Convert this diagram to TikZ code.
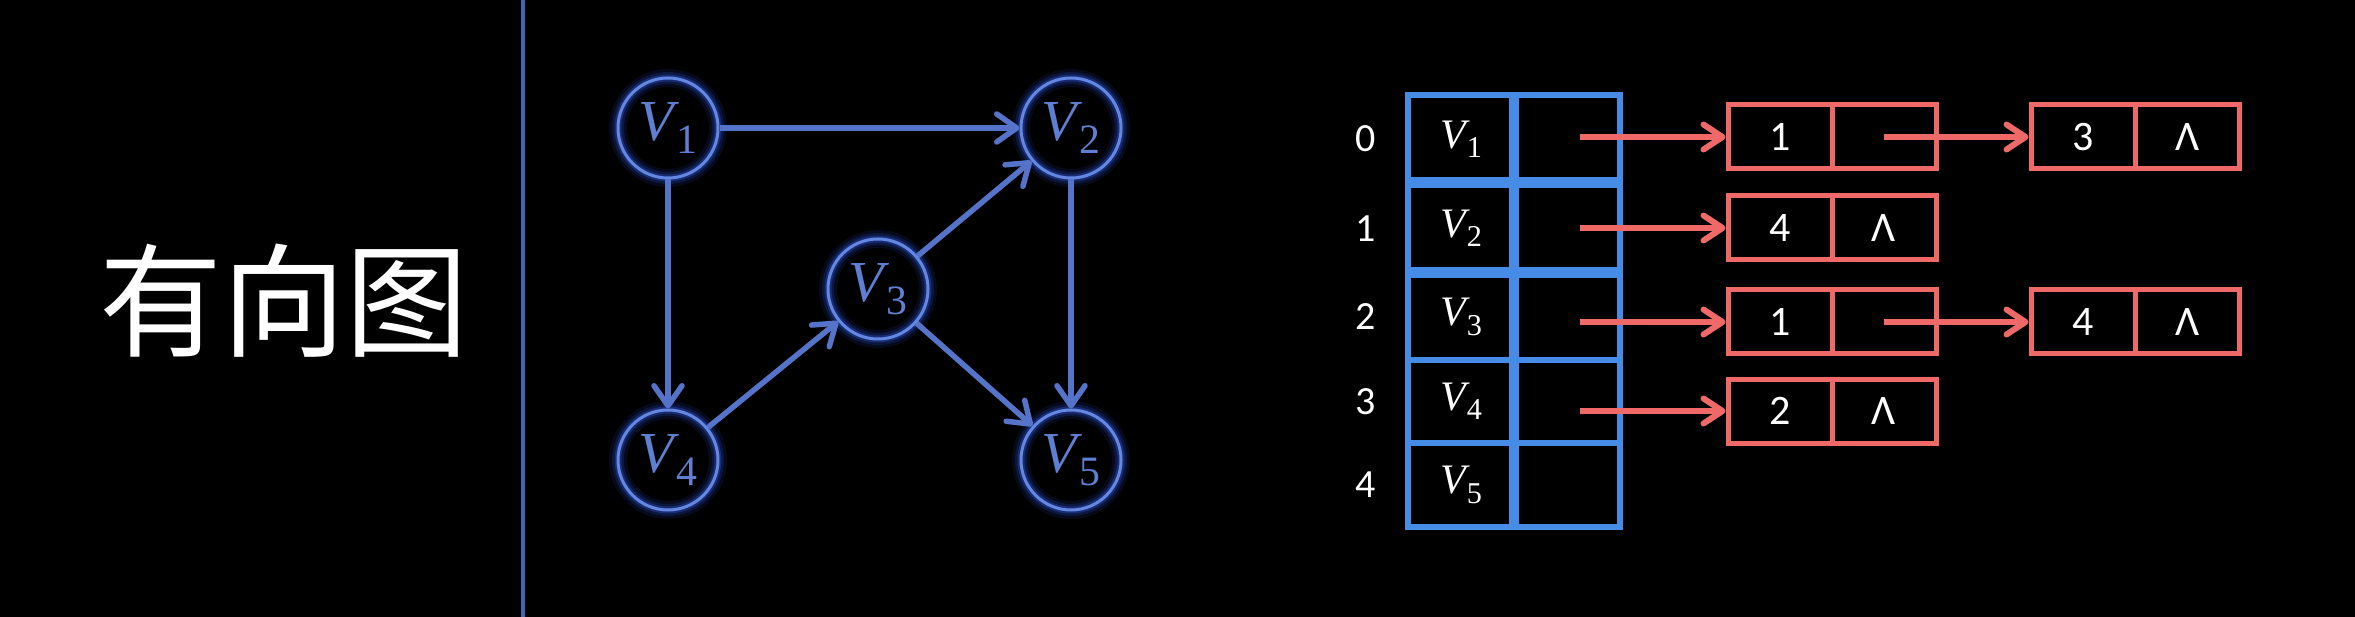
\documentclass[tikz,border=0pt]{standalone}
\usepackage{graphicx}
\usepackage{fontspec}
\newfontfamily\cjkfont{Noto Sans CJK SC}
\newfontfamily\calfont{Carlito}
\newfontfamily\serfont{Liberation Serif}
\usetikzlibrary{arrows.meta}
\newcommand\Vx[1]{{\serfont\itshape V}\kern0.03em\raisebox{-0.22em}{\scalebox{0.72}{\serfont #1}}}
\definecolor{gblue}{RGB}{85,115,200}
\definecolor{ringlight}{RGB}{100,135,225}
\definecolor{glowblue}{RGB}{35,65,170}
\definecolor{vtext}{RGB}{95,128,210}
\definecolor{sepblue}{RGB}{70,100,180}
\definecolor{tblue}{RGB}{70,140,230}
\definecolor{rred}{RGB}{240,105,105}
\tikzset{
  vtx/.style={circle, minimum size=100pt, inner sep=0pt, line width=3pt, draw=ringlight,
    preaction={draw=glowblue, line width=18pt, opacity=0.15},
    preaction={draw=glowblue, line width=12pt, opacity=0.25},
    preaction={draw=glowblue, line width=7pt, opacity=0.5},
    text=vtext, font=\fontsize{58}{62}\selectfont},
  garrow/.style={draw=gblue, line width=5.5pt, -{Straight Barb[length=20pt,width=28pt,line cap=round,line join=round]}},
  rarrow/.style={draw=rred, line width=6pt, -{Straight Barb[length=19pt,width=25pt,line cap=round,line join=round]}},
  rcell/.style={draw=rred, line width=5pt, minimum width=104pt, minimum height=64pt, inner sep=0pt, text=white, font=\calfont\fontsize{42}{44}\selectfont},
  idx/.style={text=white, font=\calfont\fontsize{40}{42}\selectfont},
  tv/.style={text=white, font=\fontsize{42}{44}\selectfont},
  tline/.style={draw=tblue},
}
\begin{document}
\begin{tikzpicture}[x=1pt,y=-1pt]
\fill[black] (0,0) rectangle (2355,617);
\useasboundingbox (0,0) rectangle (2355,617);

% title
\node[text=white, font=\cjkfont\fontsize{123}{130}\selectfont] (title) at (284,301) {有向图};

% separator
\coordinate (septop) at (523,0);
\coordinate (sepbot) at (523,617);
\draw[sepblue, line width=4pt] (septop) -- (sepbot);

% graph
\node[vtx] (v1) at (668,128) {\Vx{1}};
\node[vtx] (v2) at (1071,128) {\Vx{2}};
\node[vtx] (v3) at (878,289) {\Vx{3}};
\node[vtx] (v4) at (668,460) {\Vx{4}};
\node[vtx] (v5) at (1071,460) {\Vx{5}};
\draw[garrow] (v1) -- (v2);
\draw[garrow] (v1) -- (v4);
\draw[garrow] (v2) -- (v5);
\draw[garrow] (v4) -- (v3);
\draw[garrow] (v3) -- (v2);
\draw[garrow] (v3) -- (v5);

% table
\draw[tline, line width=10pt] (1514,95) -- (1514,527);
\draw[tline, line width=11pt] (1408,183) -- (1620,183);
\draw[tline, line width=11pt] (1408,273) -- (1620,273);
\draw[tline, line width=6pt] (1408,360) -- (1620,360);
\draw[tline, line width=6pt] (1408,443) -- (1620,443);
\draw[tline, line width=5.5pt] (1408,95) rectangle (1620,527);

\node[idx] (i0) at (1366,139) {0};
\node[idx] (i1) at (1366,229) {1};
\node[idx] (i2) at (1366,317) {2};
\node[idx] (i3) at (1366,402) {3};
\node[idx] (i4) at (1366,485) {4};

\node[tv] (t0) at (1461,139) {\Vx{1}};
\node[tv] (t1) at (1461,228) {\Vx{2}};
\node[tv] (t2) at (1461,317) {\Vx{3}};
\node[tv] (t3) at (1461,401) {\Vx{4}};
\node[tv] (t4) at (1461,485) {\Vx{5}};

\coordinate (s0) at (1580,137);
\coordinate (s1) at (1580,228);
\coordinate (s2) at (1580,322);
\coordinate (s3) at (1580,411);

% linked lists
\node[rcell] (a0) at (1780,137) {1};
\node[rcell] (b0) at (1884,137) {};
\node[rcell] (c0) at (2083,137) {3};
\node[rcell] (d0) at (2187,137) {Λ};

\node[rcell] (a1) at (1780,228) {4};
\node[rcell] (b1) at (1884,228) {Λ};

\node[rcell] (a2) at (1780,322) {1};
\node[rcell] (b2) at (1884,322) {};
\node[rcell] (c2) at (2083,322) {4};
\node[rcell] (d2) at (2187,322) {Λ};

\node[rcell] (a3) at (1780,411) {2};
\node[rcell] (b3) at (1884,411) {Λ};

\draw[rarrow] (s0) -- (a0.west);
\draw[rarrow] (s1) -- (a1.west);
\draw[rarrow] (s2) -- (a2.west);
\draw[rarrow] (s3) -- (a3.west);
\draw[rarrow] (b0.center) -- (c0.west);
\draw[rarrow] (b2.center) -- (c2.west);
\end{tikzpicture}
\end{document}
